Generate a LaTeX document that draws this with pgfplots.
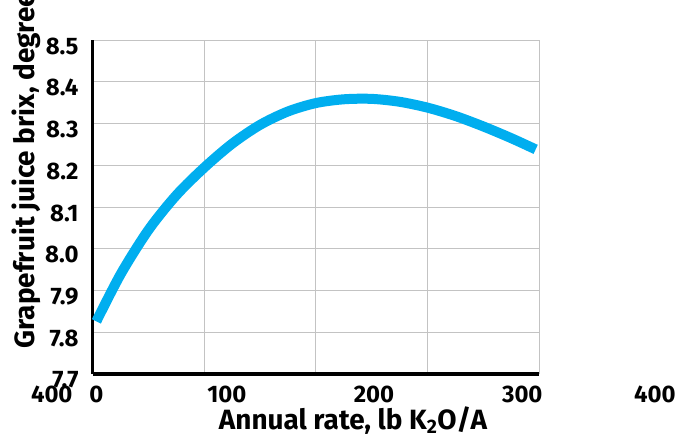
\documentclass[border=0pt]{standalone}
\usepackage{fontspec}
\setmainfont{Fira Sans}
\usepackage{pgfplots}
\pgfplotsset{compat=1.18}

\definecolor{curveblue}{RGB}{0,174,239}
\definecolor{gridgray}{RGB}{195,195,195}
\newcommand{\tickfont}{\fontsize{24}{28}\selectfont\bfseries}
\newcommand{\labelfont}{\fontsize{28}{32}\selectfont\bfseries}
\newcommand{\xlab}[2]{\node[font=\tickfont, anchor=base, yshift=-28bp] at (axis cs:#1,7.7) {\textbf{#2}};}

\begin{document}
\begin{tikzpicture}
\begin{axis}[
    scale only axis,
    width=446bp, height=334bp,
    xmin=0, xmax=400, ymin=7.7, ymax=8.5,
    xtick={0,100,200,300,400},
    xticklabels={},
    ytick={7.7,7.8,7.9,8.0,8.1,8.2,8.3,8.4,8.5},
    yticklabel style={font=\tickfont, xshift=-11bp, yshift=-6bp},
    y tick label style={/pgf/number format/.cd, fixed, fixed zerofill, precision=1},
    /pgf/number format/assume math mode=true,
    grid=major,
    major grid style={gridgray, line width=1bp},
    major tick length=0pt,
    axis x line*=bottom, axis y line*=left,
    axis line style={black, line width=3bp, -},
    clip=false,
]
% curve
\addplot[curveblue, line width=10bp, smooth, mark=none, line cap=butt] table {
x    y
3    7.826
25   7.940
50   8.046
75   8.129
100  8.195
125  8.252
150  8.297
175  8.329
200  8.349
225  8.358
250  8.359
275  8.352
300  8.338
325  8.318
350  8.293
375  8.265
397  8.238
};

% x tick labels, where the original puts them
\xlab{3}{0}
\xlab{120}{100}
\xlab{252}{200}
\xlab{385}{300}
\xlab{504}{400}
\xlab{-37}{400}

\coordinate (bl) at (rel axis cs:0,0);
\end{axis}

\node[font=\labelfont, rotate=90, anchor=base west] at ([shift={(-58bp,22bp)}]bl) {Grapefruit juice brix, degrees};
\node[font=\labelfont, anchor=base] at ([shift={(260bp,-55bp)}]bl) {Annual rate, lb K\textsubscript{2}O/A};

\pgfresetboundingbox
\path[use as bounding box] ([shift={(-93bp,-67bp)}]bl) rectangle ([shift={(599bp,374bp)}]bl);
\end{tikzpicture}
\end{document}
